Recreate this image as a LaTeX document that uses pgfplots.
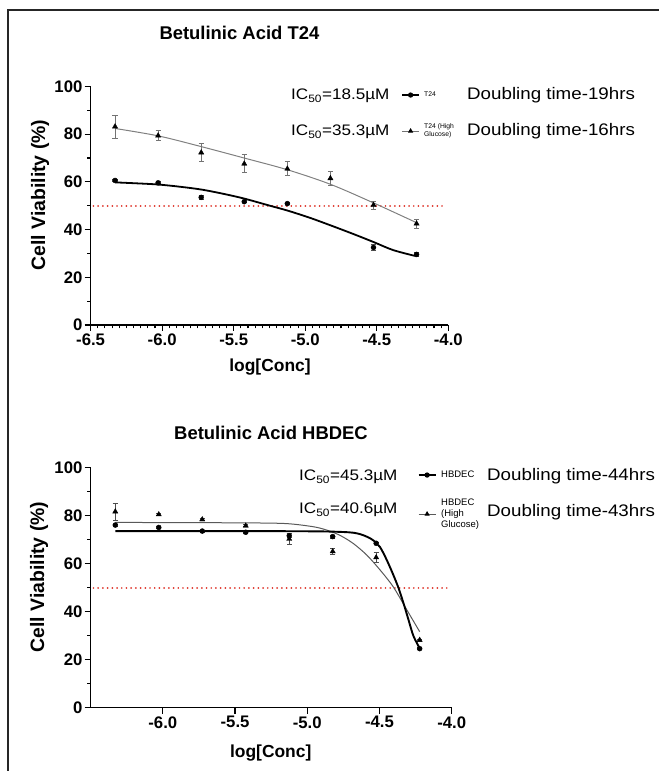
\documentclass[border=0pt]{standalone}
\usepackage{fontspec}
\setmainfont{Liberation Sans}
\newfontfamily\wide[FakeStretch=1.12]{Liberation Sans}
\usepackage{pgfplots}
\pgfplotsset{compat=1.18}
\definecolor{halfred}{RGB}{222,50,40}

\pgfplotsset{
  viab/.style={
    scale only axis, xmin=-6.5, xmax=-4, ymin=0, ymax=100,
    axis lines*=left, clip=false,
    axis line style={line width=1.4bp, black},
    tick style={line width=1.1bp, black},
    tick align=outside, major tick length=6bp, minor tick length=3.5bp,
    ytick={0,20,40,60,80,100}, yticklabels={0,20,40,60,80,100}, minor y tick num=1,
    ticklabel style={font=\fontsize{16.8}{16.8}\selectfont\bfseries},
    xticklabel style={inner sep=1bp, yshift=-1.5bp}, yticklabel style={inner sep=2bp},
    xlabel style={font=\fontsize{17.5}{17.5}\selectfont\bfseries, anchor=center},
    ylabel style={font=\fontsize{19.5}{19.5}\selectfont\bfseries, anchor=center},
    title style={font=\fontsize{18.5}{18.5}\selectfont\bfseries, anchor=center},
    legend image code/.code={\draw[mark repeat=2,mark phase=2,#1] plot coordinates {(0bp,0bp) (8.5bp,0bp) (17bp,0bp)};},
    legend cell align=left,
  },
  errs/.style={error bars/.cd, y dir=both, y explicit,
    error bar style={line width=0.8bp, #1},
    error mark options={rotate=90, mark size=2.6bp, line width=0.8bp, #1}},
  halfline/.style={color=halfred, line width=1.9bp, line cap=round,
    dash pattern=on 0.01bp off 4.7bp, forget plot},
}

\begin{document}
\begin{tikzpicture}
\useasboundingbox (0bp,0bp) rectangle (659bp,771bp);
\draw[line width=1.2bp, black!85] (8bp,-5bp) -- (8bp,761bp) -- (670bp,761bp);

% ---------- T24 ----------
\begin{axis}[viab, at={(90.6bp,446bp)}, anchor=south west,
  width=357.7bp, height=238.5bp,
  xtick={-6.5,-6,-5.5,-5,-4.5,-4},
  xticklabels={-6.5,-6.0,-5.5,-5.0,-4.5,-4.0},
  minor x tick num=9,
  title={Betulinic Acid T24},
  title style={at={(axis description cs:0.416,1.200)}},
  xlabel={log[Conc]},
  xlabel style={at={(axis description cs:0.5015,-0.178)}},
  ylabel={Cell Viability (\%)},
  ylabel style={at={(axis description cs:-0.1415,0.545)}},
  legend style={draw=none, fill=none, inner sep=0pt, outer sep=0pt,
    at={(axis description cs:0.8692,0.9778)}, anchor=north west,
    font=\fontsize{6.8}{8.2}\selectfont, row sep=29.5bp,
    nodes={inner sep=0pt, text height=5bp, text depth=1.5bp},
    /tikz/every odd column/.style={column sep=4.5bp}},
]
\addplot[halfline] coordinates {(-6.48,50) (-4.02,50)};
% fitted curves
\addplot[smooth, black!50, line width=1bp, forget plot] coordinates {
  (-6.329,82.4) (-6.028,79.3) (-5.727,74.8) (-5.426,70.0)
  (-5.125,65.1) (-4.824,59.0) (-4.523,51.2) (-4.222,42.9)};
\addplot[smooth, black, line width=1.8bp, forget plot] coordinates {
  (-6.329,59.8) (-6.18,59.4) (-6.028,58.9) (-5.88,58.0) (-5.727,56.8)
  (-5.58,55.1) (-5.426,53.0) (-5.246,50.0) (-5.125,48.0) (-4.97,45.0)
  (-4.824,41.8) (-4.67,38.3) (-4.523,34.8) (-4.385,31.4) (-4.222,28.8)};
% data: T24 (high glucose)
\addplot[only marks, mark=triangle*, mark size=3bp, black, forget plot, errs={black!55}]
  table[x=x, y=y, y error=e] {
x        y     e
-6.3291  83.2  4.8
-6.0280  79.4  2.1
-5.7270  72.3  3.9
-5.4260  67.6  3.8
-5.1249  65.5  2.9
-4.8239  61.5  2.9
-4.5229  50.3  1.7
-4.2218  42.5  1.9
};
% data: T24
\addplot[only marks, mark=*, mark size=2.5bp, black, forget plot, errs={black!70}]
  table[x=x, y=y, y error=e] {
x        y     e
-6.3291  60.6  0.4
-6.0280  59.6  0.4
-5.7270  53.5  0.9
-5.4260  51.7  0.5
-5.1249  50.9  0.4
-4.5229  32.5  1.4
-4.2218  29.6  0.7
};
\addlegendimage{black, line width=1.2bp, mark=*, mark size=2bp}
\addlegendentry{T24}
\addlegendimage{black!55, line width=0.8bp, mark=triangle*, mark size=2.2bp, mark options={black}}
\addlegendentry{\begin{tabular}[c]{@{}l@{}}T24 (High\\Glucose)\end{tabular}}
\end{axis}

% ---------- HBDEC ----------
\begin{axis}[viab, at={(90.6bp,63.3bp)}, anchor=south west,
  width=361.1bp, height=240bp,
  xtick={-6,-5.5,-5,-4.5,-4},
  xticklabels={-6.0,-5.5,-5.0,-4.5,-4.0},
  minor x tick num=0,
  title={Betulinic Acid HBDEC},
  title style={at={(axis description cs:0.4996,1.122)}},
  xlabel={log[Conc]},
  xlabel style={at={(axis description cs:0.4988,-0.19)}},
  ylabel={Cell Viability (\%)},
  ylabel style={at={(axis description cs:-0.1429,0.5446)}},
  legend style={draw=none, fill=none, inner sep=0pt, outer sep=0pt,
    at={(axis description cs:0.9067,0.9888)}, anchor=north west,
    font=\fontsize{9.5}{11.3}\selectfont, row sep=29.7bp,
    nodes={inner sep=0pt, text height=7bp, text depth=2.3bp},
    /tikz/every odd column/.style={column sep=5bp}},
]
\addplot[halfline] coordinates {(-6.48,50) (-4.02,50)};
\addplot[smooth, black!65, line width=1bp, forget plot] coordinates {
  (-6.329,77.2) (-5.8,77.1) (-5.4,77.0) (-5.142,76.7) (-4.958,75.4)
  (-4.865,74.0) (-4.773,71.8) (-4.681,68.4) (-4.588,63.6) (-4.496,57.4)
  (-4.404,50.3) (-4.311,40.8) (-4.222,31.7)};
\addplot[smooth, black, line width=1.9bp, forget plot] coordinates {
  (-6.329,73.6) (-5.8,73.6) (-5.2,73.55) (-4.9,73.45) (-4.75,73.2)
  (-4.68,72.9) (-4.634,72.3) (-4.585,71.2) (-4.542,69.7) (-4.496,66.9)
  (-4.450,61.6) (-4.404,55.3) (-4.369,50.0) (-4.334,43.6) (-4.299,36.6)
  (-4.265,29.9) (-4.222,24.8)};
% data: HBDEC (high glucose)
\addplot[only marks, mark=triangle*, mark size=3bp, black, forget plot, errs={black!70}]
  table[x=x, y=y, y error=e] {
x        y     e
-6.3291  81.7  3.5
-6.0280  80.5  0.4
-5.7270  78.4  0.4
-5.4260  75.8  0.4
-5.1249  70.3  2.4
-4.8239  65.1  1.3
-4.5229  62.6  1.9
-4.2218  28.2  0.4
};
% data: HBDEC
\addplot[only marks, mark=*, mark size=2.5bp, black, forget plot, errs={black!70}]
  table[x=x, y=y, y error=e] {
x        y     e
-6.3291  76.1  0.4
-6.0280  75.1  0.4
-5.7270  73.6  0.4
-5.4260  73.1  0.4
-5.1249  71.7  0.8
-4.8239  71.3  0.6
-4.5229  68.5  0.4
-4.2218  24.6  0.4
};
\addlegendimage{black, line width=1.2bp, mark=*, mark size=2bp}
\addlegendentry{HBDEC}
\addlegendimage{black!65, line width=0.8bp, mark=triangle*, mark size=2.2bp, mark options={black}}
\addlegendentry{\begin{tabular}[c]{@{}l@{}}HBDEC\\(High\\Glucose)\end{tabular}}
\end{axis}

% IC50 and doubling-time notes
\begin{scope}[every node/.style={anchor=base west, inner sep=0pt}]
\node[font=\wide\fontsize{15.3}{16}\selectfont] at (291bp,671.5bp) {IC\textsubscript{50}=18.5µM};
\node[font=\wide\fontsize{15.3}{16}\selectfont] at (291bp,635.5bp) {IC\textsubscript{50}=35.3µM};
\node[font=\wide\fontsize{16.8}{17}\selectfont] at (467bp,671.5bp) {Doubling time-19hrs};
\node[font=\wide\fontsize{16.8}{17}\selectfont] at (467bp,635.5bp) {Doubling time-16hrs};
\node[font=\wide\fontsize{15.3}{16}\selectfont] at (299bp,290bp) {IC\textsubscript{50}=45.3µM};
\node[font=\wide\fontsize{15.3}{16}\selectfont] at (299bp,257.3bp) {IC\textsubscript{50}=40.6µM};
\node[font=\wide\fontsize{16.8}{17}\selectfont] at (487bp,290bp) {Doubling time-44hrs};
\node[font=\wide\fontsize{16.8}{17}\selectfont] at (487bp,254.3bp) {Doubling time-43hrs};
\end{scope}
\end{tikzpicture}
\end{document}
